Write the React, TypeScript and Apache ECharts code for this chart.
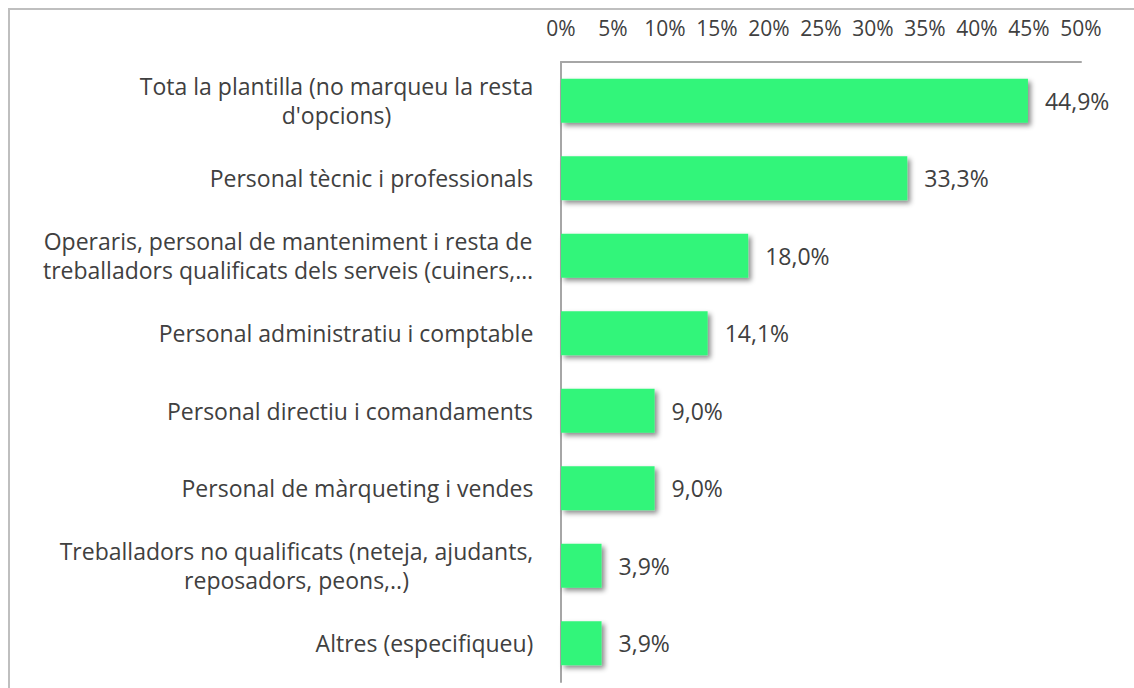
import React, { useEffect, useRef } from "react";
import * as echarts from "echarts";

const categories: string[][] = [
  ["Tota la plantilla (no marqueu la resta", "d'opcions)"],
  ["Personal tècnic i professionals"],
  ["Operaris, personal de manteniment i resta de", "treballadors qualificats dels serveis (cuiners,…"],
  ["Personal administratiu i comptable"],
  ["Personal directiu i comandaments"],
  ["Personal de màrqueting i vendes"],
  ["Treballadors no qualificats (neteja, ajudants,", "reposadors, peons,..)"],
  ["Altres (especifiqueu)"],
];
const values: number[] = [44.9, 33.3, 18.0, 14.1, 9.0, 9.0, 3.9, 3.9];
const tickValues: number[] = [0, 5, 10, 15, 20, 25, 30, 35, 40, 45, 50];

const FONT = "'Open Sans', 'Noto Sans', sans-serif";
const FS_CAT = 23;
const FS_TICK = 21;
const FS_VAL = 23;
const TXT = "#404040";

function measure(t: string): number {
  const c = document.createElement("canvas").getContext("2d")!;
  c.font = `${FS_CAT}px 'Open Sans'`;
  return c.measureText(t).width;
}

export default function App() {
  const ref = useRef<HTMLDivElement>(null);
  useEffect(() => {
    document.body.style.margin = "0";
    const chart = echarts.init(ref.current!, null, { renderer: "svg" });
    const rich: Record<string, any> = {};
    categories.forEach((lines, i) => {
      const w = Math.max(...lines.map(measure));
      rich["l" + i] = {
        width: Math.ceil(w) + 1,
        align: "center",
        fontSize: FS_CAT,
        fontFamily: FONT,
        color: TXT,
        lineHeight: 29,
      };
    });
    chart.setOption({
      animation: false,
      graphic: [
        {
          type: "rect",
          shape: { x: 9, y: 9, width: 1200, height: 800 },
          style: { fill: "none", stroke: "#bfbfbf", lineWidth: 2 },
          silent: true,
        },
      ],
      grid: { left: 561, right: 53, top: 62, bottom: 6, containLabel: false },
      xAxis: {
        type: "value",
        position: "top",
        min: 0,
        max: 50,
        interval: 5,
        axisLine: { show: true, lineStyle: { color: "#a6a6a6", width: 2 } },
        axisTick: { show: false },
        splitLine: { show: false },
        axisLabel: {
          margin: 24,
          fontSize: FS_TICK,
          fontFamily: FONT,
          color: TXT,
          formatter: (v: number) => (tickValues.includes(v) ? `${v}%` : ""),
        },
      },
      yAxis: {
        type: "category",
        inverse: true,
        data: categories.map((c) => c.join("\n")),
        axisLine: { show: true, lineStyle: { color: "#a6a6a6", width: 2 } },
        axisTick: { show: false },
        axisLabel: {
          margin: 27,
          align: "right",
          rich,
          formatter: (_v: string, i: number) =>
            categories[i].map((l) => `{l${i}|${l}}`).join("\n"),
        },
      },
      series: [
        {
          type: "bar",
          data: values,
          barWidth: "57%",
          itemStyle: {
            color: "#33f57a",
            shadowColor: "rgba(0,0,0,0.45)",
            shadowBlur: 5,
            shadowOffsetX: 3,
            shadowOffsetY: 3,
          },
          label: {
            show: true,
            position: "right",
            distance: 17,
            fontSize: FS_VAL,
            fontFamily: FONT,
            color: TXT,
            formatter: (p: any) =>
              `${(p.value as number).toFixed(1).replace(".", ",")}%`,
          },
        },
      ],
    });
    return () => chart.dispose();
  }, []);
  return <div ref={ref} style={{ width: 1134, height: 688 }} />;
}
